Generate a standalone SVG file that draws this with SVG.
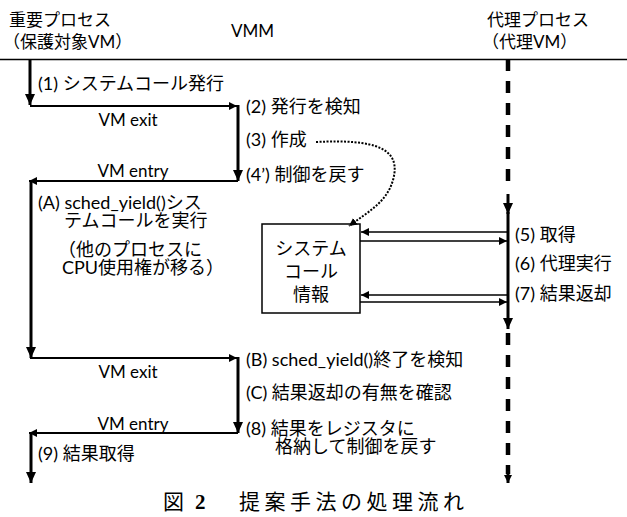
<svg xmlns="http://www.w3.org/2000/svg" width="627" height="517" viewBox="0 0 627 517">
<style>
.t{font-family:"Lato","Noto Sans CJK JP",sans-serif;font-size:17px;fill:#000}
.l{font-family:"Lato","Noto Sans CJK JP",sans-serif;font-size:18px;fill:#000}
.cap{font-family:"Liberation Serif","Noto Sans CJK JP",serif;font-size:21px;fill:#000}
.thick{stroke:#000;stroke-width:3;fill:none}
.mid{stroke:#000;stroke-width:2;fill:none}
.thin{stroke:#000;stroke-width:1.5;fill:none}
.dash{stroke:#000;stroke-width:4.5;fill:none;stroke-dasharray:12 10}
</style>
<defs>
<marker id="ah" markerUnits="userSpaceOnUse" markerWidth="12" markerHeight="10" refX="11" refY="5" orient="auto"><path d="M0,0 L11,5 L0,10 Z" fill="#000"/></marker>
<marker id="as" markerUnits="userSpaceOnUse" markerWidth="9" markerHeight="8" refX="8" refY="4" orient="auto"><path d="M0,0 L8,4 L0,8 Z" fill="#000"/></marker>
</defs>
<rect width="627" height="517" fill="#fff"/>
<g id="headers">
<text class="t" x="9" y="26">重要プロセス</text>
<text class="t" x="3" y="48">（保護対象VM）</text>
<text class="t" x="231" y="37">VMM</text>
<text class="t" x="487" y="26">代理プロセス</text>
<text class="t" x="482" y="48">（代理VM）</text>
</g>
<g id="box">
<rect x="262" y="224" width="98" height="89" fill="#fff" stroke="#000" stroke-width="1.5"/>
<text class="l" x="311" y="255" text-anchor="middle">システム</text>
<text class="l" x="311" y="278" text-anchor="middle">コール</text>
<text class="l" x="311" y="301" text-anchor="middle">情報</text>
</g>
<g id="connectors">
<line x1="0" y1="59.5" x2="627" y2="59.5" stroke="#000" stroke-width="1.5"/>
<line class="thick" x1="30" y1="60" x2="30" y2="105" marker-end="url(#ah)"/>
<line class="mid" x1="30" y1="106" x2="237" y2="106" marker-end="url(#as)"/>
<line class="thick" x1="238" y1="105" x2="238" y2="181" marker-end="url(#ah)"/>
<line class="mid" x1="238" y1="181" x2="29" y2="181" marker-end="url(#as)"/>
<line class="thick" x1="31" y1="180" x2="31" y2="358" marker-end="url(#ah)"/>
<line class="mid" x1="30" y1="358" x2="237" y2="358" marker-end="url(#as)"/>
<line class="thick" x1="238" y1="357" x2="238" y2="433" marker-end="url(#ah)"/>
<line class="mid" x1="238" y1="433" x2="29" y2="433" marker-end="url(#as)"/>
<line class="thick" x1="31" y1="432" x2="31" y2="483" marker-end="url(#ah)"/>
<line class="dash" x1="508" y1="59" x2="508" y2="188"/>
<line class="thick" x1="508" y1="194" x2="508" y2="214" marker-end="url(#ah)"/>
<line class="thick" x1="508" y1="212" x2="508" y2="329" marker-end="url(#ah)"/>
<line class="dash" x1="508" y1="333" x2="508" y2="474"/>
<line stroke="#000" stroke-width="3" x1="508" y1="470" x2="508" y2="483" marker-end="url(#as)"/>
<line class="thin" x1="507" y1="232" x2="361" y2="232" marker-end="url(#as)"/>
<line class="thin" x1="360" y1="241" x2="507" y2="241" marker-end="url(#as)"/>
<line class="thin" x1="507" y1="295" x2="361" y2="295" marker-end="url(#as)"/>
<line class="thin" x1="360" y1="302" x2="507" y2="302" marker-end="url(#as)"/>
<path d="M316,142 C375,139 402,148 393,180 C387,202 368,212 349,226" stroke="#000" stroke-width="2" fill="none" stroke-dasharray="2 1.5" marker-end="url(#as)"/>
</g>
<g id="labels">
<text class="l" x="38" y="90">(1) システムコール発行</text>
<text class="t" x="128" y="126" text-anchor="middle">VM exit</text>
<text class="t" x="133" y="177" text-anchor="middle">VM entry</text>
<text class="l" x="246" y="113">(2) 発行を検知</text>
<text class="l" x="246" y="146">(3) 作成</text>
<text class="l" x="246" y="181">(4’) 制御を戻す</text>
<text class="l" x="38" y="209">(A) sched_yield()シス</text>
<text class="l" x="64" y="227">テムコールを実行</text>
<text class="l" x="58" y="256">（他のプロセスに</text>
<text class="l" x="62" y="274">CPU使用権が移る）</text>
<text class="l" x="515" y="241">(5) 取得</text>
<text class="l" x="515" y="270">(6) 代理実行</text>
<text class="l" x="515" y="300">(7) 結果返却</text>
<text class="t" x="128" y="378" text-anchor="middle">VM exit</text>
<text class="t" x="133" y="430" text-anchor="middle">VM entry</text>
<text class="l" x="246" y="366">(B) sched_yield()終了を検知</text>
<text class="l" x="246" y="399">(C) 結果返却の有無を確認</text>
<text class="l" x="246" y="435">(8) 結果をレジスタに</text>
<text class="l" x="275" y="453">格納して制御を戻す</text>
<text class="l" x="38" y="460">(9) 結果取得</text>
</g>
<g id="caption">
<text class="cap" x="163" y="509">図</text>
<text class="cap" x="195" y="509" font-weight="bold">2</text>
<text class="cap" x="239" y="509" textLength="225" lengthAdjust="spacing">提案手法の処理流れ</text>
</g>
</svg>
